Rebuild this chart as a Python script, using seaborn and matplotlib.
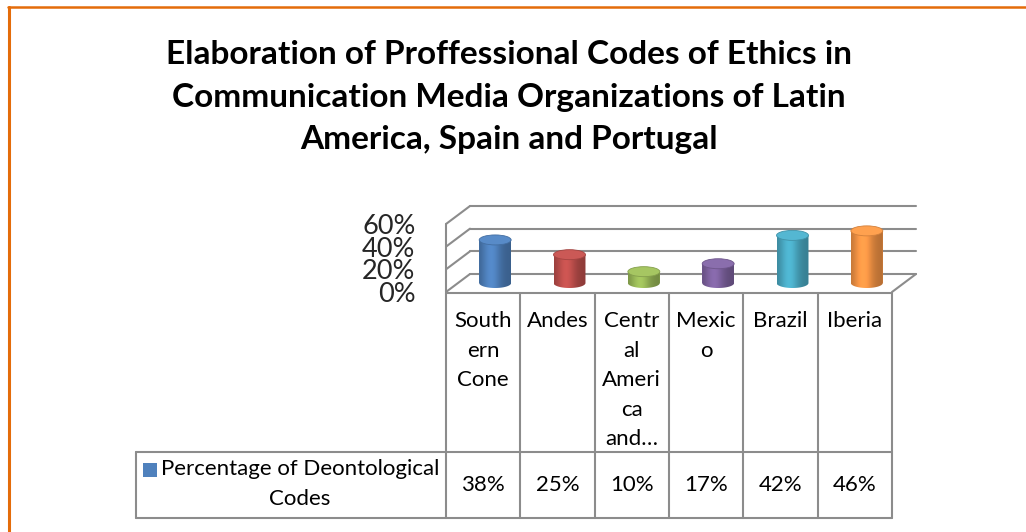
import matplotlib
matplotlib.use("Agg")
import numpy as np
import pandas as pd
import seaborn as sns
import matplotlib.pyplot as plt
from matplotlib import transforms as mtrans
from matplotlib.patches import Ellipse, Rectangle, PathPatch
from matplotlib.path import Path
from matplotlib.lines import Line2D
from matplotlib.colors import to_rgb

# ---------------- data ----------------
title = ("Elaboration of Proffessional Codes of Ethics in\n"
         "Communication Media Organizations of Latin\n"
         "America, Spain and Portugal")
categories = ["Southern Cone", "Andes", "Central America and Caribbean",
              "Mexico", "Brazil", "Iberia"]
category_labels = ["South\nern\nCone", "Andes", "Centr\nal\nAmeri\nca\nand\u2026",
                   "Mexic\no", "Brazil", "Iberia"]
values = [0.38, 0.25, 0.10, 0.17, 0.42, 0.46]
value_labels = ["38%", "25%", "10%", "17%", "42%", "46%"]
series_name = "Percentage of Deontological\nCodes"
y_ticks = [0.0, 0.2, 0.4, 0.6]
y_tick_labels = ["0%", "20%", "40%", "60%"]
colors = ["#4F81BD", "#C0504D", "#9BBB59", "#8064A2", "#4BACC6", "#F79646"]

# ---------------- style ----------------
sns.set_style("white")
plt.rcParams["font.family"] = ["Lato", "DejaVu Sans"]

W, H, DPI = 1026, 532, 100
fig = plt.figure(figsize=(W / DPI, H / DPI), dpi=DPI)
fig.patch.set_facecolor("white")


def fx(p):
    return p / W


def fy(p):
    return 1 - p / H


GRID = "#8c8c8c"
LW = 1.5
TXT = 16

# front plane of the 3-D plot
FL, FR, FT, FB = 446, 892, 224, 292
ax = fig.add_axes([fx(FL), fy(FB), fx(FR) - fx(FL), fy(FT) - fy(FB)])
ax.set_facecolor("none")

df = pd.DataFrame({"category": categories, "value": values})
sns.barplot(data=df, x="category", y="value", hue="category", palette=colors,
            order=categories, hue_order=categories, width=0.43, ax=ax,
            legend=False, saturation=1)

col_px = (FR - FL) / len(categories)
ypx = (FB - FT) / 0.6
DX = 24 / col_px
DY = 18 / ypx
EH = 10 / ypx
mid = mtrans.Affine2D().translate(DX / 2, DY / 2) + ax.transData

bars = sorted([b for c in ax.containers for b in c], key=lambda b: b.get_x())
for bar, col in zip(bars, colors):
    x0, w, h = bar.get_x(), bar.get_width(), bar.get_height()
    xc = x0 + w / 2
    bar.set_transform(mid)
    bar.set_zorder(3)
    bar.set_edgecolor("none")
    th = np.linspace(np.pi, 2 * np.pi, 60)
    verts = [(x0, h), (x0, 0)] + [(xc + w / 2 * np.cos(t), EH / 2 * np.sin(t)) for t in th] \
        + [(x0 + w, h), (x0, h)]
    pp = PathPatch(Path(verts), transform=mid, facecolor="none", edgecolor="none")
    ax.add_patch(pp)
    base = np.array(to_rgb(col))
    t = np.linspace(0, 1, 80)
    m = 0.74 + 0.34 * np.exp(-((t - 0.38) / 0.3) ** 2)
    rgb = np.clip(base[None, :] * m[:, None], 0, 1)[None, :, :]
    im = ax.imshow(rgb, extent=[x0, x0 + w, -EH / 2, h], transform=mid,
                   aspect="auto", interpolation="bilinear", zorder=4)
    im.set_clip_path(pp)
    light = np.clip(base * 1.02 + 0.03, 0, 1)
    ax.add_patch(Ellipse((xc, h), w, EH, transform=mid, facecolor=light,
                         edgecolor=np.clip(base * 0.85, 0, 1), lw=0.6, zorder=5))

ax.set_xlim(-0.5, 5.5)
ax.set_ylim(0, 0.6)
for s in ax.spines.values():
    s.set_visible(False)
ax.set_xlabel("")
ax.set_ylabel("")
ax.set_xticks([])
ax.set_yticks(y_ticks)
ax.set_yticklabels(y_tick_labels, fontsize=19.5)
ax.tick_params(axis="y", length=0, pad=22)
ax.grid(False)

# walls / gridlines
for tv in y_ticks:
    ax.plot([-0.5 + DX, 5.5 + DX], [tv + DY, tv + DY], color=GRID, lw=LW,
            clip_on=False, zorder=1)
    ax.plot([-0.5, -0.5 + DX], [tv, tv + DY], color=GRID, lw=LW,
            clip_on=False, zorder=1)
ax.plot([-0.5, -0.5], [0, 0.6], color=GRID, lw=LW, clip_on=False, zorder=1)
ax.plot([5.5, 5.5 + DX], [0, DY], color=GRID, lw=LW, clip_on=False, zorder=1)

# ---------------- data table ----------------
T = mtrans.blended_transform_factory(ax.transData, fig.transFigure)
TOP, MIDL, BOT = 293, 452, 518
LEG_LEFT = -0.5 - (FL - 136) / col_px
ax.plot([-0.5, 5.5], [fy(TOP), fy(TOP)], transform=T, color=GRID, lw=LW, clip_on=False)
for yy in (MIDL, BOT):
    ax.plot([LEG_LEFT, 5.5], [fy(yy), fy(yy)], transform=T, color=GRID, lw=LW, clip_on=False)
for i in range(len(categories) + 1):
    ax.plot([-0.5 + i, -0.5 + i], [fy(TOP), fy(BOT)], transform=T, color=GRID,
            lw=LW, clip_on=False)
ax.plot([LEG_LEFT, LEG_LEFT], [fy(MIDL), fy(BOT)], transform=T, color=GRID,
        lw=LW, clip_on=False)

for i, (lab, vl) in enumerate(zip(category_labels, value_labels)):
    ax.text(i, fy(311), lab, transform=T, ha="center", va="top", fontsize=TXT,
            linespacing=1.6, color="black")
    ax.text(i, fy(485), vl, transform=T, ha="center", va="center", fontsize=TXT,
            color="black")

fig.add_artist(Rectangle((fx(143), fy(477)), fx(14), 14 / H, transform=fig.transFigure,
                         facecolor=colors[0], edgecolor="none"))
fig.text(fx(300), fy(484), series_name, ha="center", va="center",
         multialignment="center", fontsize=TXT, linespacing=1.65, color="black")

# ---------------- title ----------------
fig.text(fx(509), fy(97), title, ha="center", va="center", fontsize=24,
         fontweight="bold", linespacing=1.55, color="black")

# ---------------- border ----------------
fig.add_artist(Line2D([fx(8), 1], [fy(7), fy(7)], color="#E46C0A", lw=1.8,
                      transform=fig.transFigure))
fig.add_artist(Line2D([fx(9), fx(9)], [fy(7), 0], color="#E46C0A", lw=2.2,
                      transform=fig.transFigure))

fig.savefig("out.png", dpi=DPI)
